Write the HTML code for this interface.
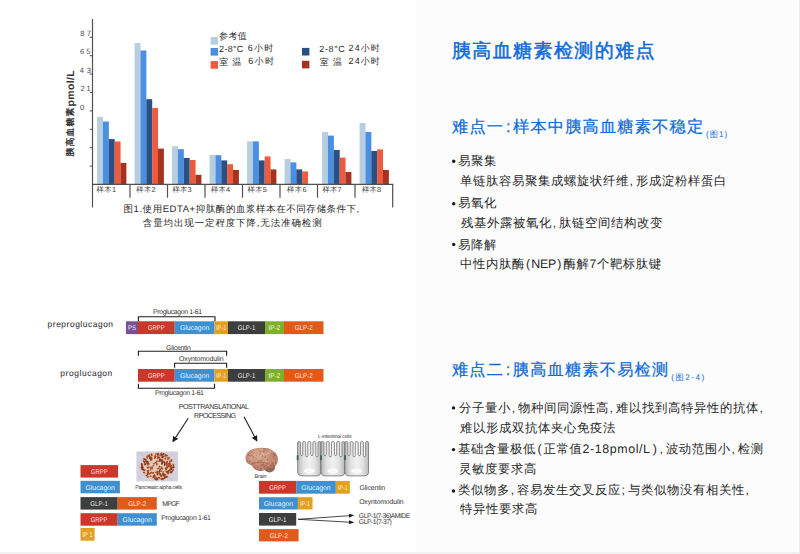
<!DOCTYPE html>
<html><head><meta charset="utf-8"><title>胰高血糖素检测的难点</title>
<style>
html,body{margin:0;padding:0;background:#fff;}
body{width:800px;height:554px;position:relative;overflow:hidden;font-family:"Liberation Sans", sans-serif;}
.rp{position:absolute;left:416px;top:0;width:383px;height:553px;background:#fcfcfd;}
.bb{position:absolute;left:0;top:552px;width:800px;height:2px;background:linear-gradient(#f6f6f6,#ebebeb);}
.br{position:absolute;left:799px;top:0;width:1px;height:554px;background:#ebebeb;}
svg{position:absolute;left:0;top:0;}
</style></head><body>
<div class="rp"></div><div class="bb"></div><div class="br"></div>
<svg width="800" height="554" viewBox="0 0 800 554" font-family='"Liberation Sans", sans-serif' text-rendering="geometricPrecision">
<rect x="97.10" y="116.9" width="5.90" height="67.50" fill="#b7cde0"/>
<rect x="102.95" y="121.5" width="5.90" height="62.90" fill="#4a8fe0"/>
<rect x="108.80" y="139.1" width="5.90" height="45.30" fill="#2a4f82"/>
<rect x="114.65" y="141.5" width="5.90" height="42.90" fill="#ec5b3d"/>
<rect x="120.50" y="162.9" width="5.90" height="21.50" fill="#a6321f"/>
<rect x="134.60" y="43" width="5.90" height="141.40" fill="#b7cde0"/>
<rect x="140.45" y="50.5" width="5.90" height="133.90" fill="#4a8fe0"/>
<rect x="146.30" y="99.2" width="5.90" height="85.20" fill="#2a4f82"/>
<rect x="152.15" y="108" width="5.90" height="76.40" fill="#ec5b3d"/>
<rect x="158.00" y="148.6" width="5.90" height="35.80" fill="#a6321f"/>
<rect x="172.10" y="146.2" width="5.90" height="38.20" fill="#b7cde0"/>
<rect x="177.95" y="149.2" width="5.90" height="35.20" fill="#4a8fe0"/>
<rect x="183.80" y="158" width="5.90" height="26.40" fill="#2a4f82"/>
<rect x="189.65" y="160" width="5.90" height="24.40" fill="#ec5b3d"/>
<rect x="195.50" y="174.8" width="5.90" height="9.60" fill="#a6321f"/>
<rect x="209.60" y="154.8" width="5.90" height="29.60" fill="#b7cde0"/>
<rect x="215.45" y="155.2" width="5.90" height="29.20" fill="#4a8fe0"/>
<rect x="221.30" y="160.4" width="5.90" height="24.00" fill="#2a4f82"/>
<rect x="227.15" y="164.2" width="5.90" height="20.20" fill="#ec5b3d"/>
<rect x="233.00" y="170" width="5.90" height="14.40" fill="#a6321f"/>
<rect x="247.10" y="141.4" width="5.90" height="43.00" fill="#b7cde0"/>
<rect x="252.95" y="141.4" width="5.90" height="43.00" fill="#4a8fe0"/>
<rect x="258.80" y="160.4" width="5.90" height="24.00" fill="#2a4f82"/>
<rect x="264.65" y="156.4" width="5.90" height="28.00" fill="#ec5b3d"/>
<rect x="270.50" y="169.4" width="5.90" height="15.00" fill="#a6321f"/>
<rect x="284.60" y="159" width="5.90" height="25.40" fill="#b7cde0"/>
<rect x="290.45" y="162.4" width="5.90" height="22.00" fill="#4a8fe0"/>
<rect x="296.30" y="169.4" width="5.90" height="15.00" fill="#2a4f82"/>
<rect x="302.15" y="171.4" width="5.90" height="13.00" fill="#ec5b3d"/>
<rect x="322.10" y="132" width="5.90" height="52.40" fill="#b7cde0"/>
<rect x="327.95" y="135.6" width="5.90" height="48.80" fill="#4a8fe0"/>
<rect x="333.80" y="150" width="5.90" height="34.40" fill="#2a4f82"/>
<rect x="339.65" y="157.6" width="5.90" height="26.80" fill="#ec5b3d"/>
<rect x="345.50" y="172" width="5.90" height="12.40" fill="#a6321f"/>
<rect x="359.60" y="123" width="5.90" height="61.40" fill="#b7cde0"/>
<rect x="365.45" y="132" width="5.90" height="52.40" fill="#4a8fe0"/>
<rect x="371.30" y="151" width="5.90" height="33.40" fill="#2a4f82"/>
<rect x="377.15" y="149.4" width="5.90" height="35.00" fill="#ec5b3d"/>
<rect x="383.00" y="170" width="5.90" height="14.40" fill="#a6321f"/>
<path d="M92.5 19V207.5" stroke="#505050" stroke-width="1.2"/>
<path d="M92.5 184.4H393.3" stroke="#505050" stroke-width="1.2"/>
<path d="M89.7 37.3H92.5" stroke="#505050" stroke-width="1"/>
<path d="M89.7 55.7H92.5" stroke="#505050" stroke-width="1"/>
<path d="M89.7 74.1H92.5" stroke="#505050" stroke-width="1"/>
<path d="M89.7 92.5H92.5" stroke="#505050" stroke-width="1"/>
<path d="M89.7 110.9H92.5" stroke="#505050" stroke-width="1"/>
<path d="M89.7 129.3H92.5" stroke="#505050" stroke-width="1"/>
<path d="M89.7 147.7H92.5" stroke="#505050" stroke-width="1"/>
<path d="M89.7 166.1H92.5" stroke="#505050" stroke-width="1"/>
<path d="M130.0 184.4V197.7" stroke="#505050" stroke-width="1.2"/>
<path d="M167.5 184.4V197.7" stroke="#505050" stroke-width="1.2"/>
<path d="M205.0 184.4V197.7" stroke="#505050" stroke-width="1.2"/>
<path d="M242.5 184.4V197.7" stroke="#505050" stroke-width="1.2"/>
<path d="M280.0 184.4V197.7" stroke="#505050" stroke-width="1.2"/>
<path d="M317.5 184.4V197.7" stroke="#505050" stroke-width="1.2"/>
<path d="M355.0 184.4V197.7" stroke="#505050" stroke-width="1.2"/>
<path d="M392.7 184.4V207.5" stroke="#505050" stroke-width="1.2"/>
<text transform="translate(74.4,156.4) rotate(-90)" font-weight="bold" fill="#333"><tspan font-size="8.9" dy="-1.1" style="letter-spacing:1.1px" textLength="50" lengthAdjust="spacingAndGlyphs">胰高血糖素</tspan><tspan font-size="10.4" dy="1.1" style="letter-spacing:0.4px">pmol/L</tspan></text>
<rect x="210.6" y="37" width="7.4" height="7.6" fill="#b7cde0"/>
<rect x="210.6" y="48" width="7.4" height="7.6" fill="#4a8fe0"/>
<rect x="210.6" y="61.1" width="7.4" height="7.6" fill="#ec5b3d"/>
<rect x="302" y="47.9" width="7.4" height="7.6" fill="#2a4f82"/>
<rect x="302" y="60.8" width="7.4" height="7.6" fill="#a6321f"/>
<rect x="126" y="321.3" width="12.00" height="12.80" fill="#7b4f96"/>
<text x="132.00" y="330.40" font-size="6.9" fill="#fff" fill-opacity="0.93" text-anchor="middle" textLength="8.10" lengthAdjust="spacingAndGlyphs">PS</text>
<rect x="138" y="321.3" width="36.70" height="12.80" fill="#c9382b"/>
<text x="156.35" y="330.40" font-size="6.9" fill="#fff" fill-opacity="0.93" text-anchor="middle" textLength="16.50" lengthAdjust="spacingAndGlyphs">GRPP</text>
<rect x="174.7" y="321.3" width="39.80" height="12.80" fill="#4090d0"/>
<text x="194.60" y="330.40" font-size="6.9" fill="#fff" fill-opacity="0.93" text-anchor="middle" textLength="29.40" lengthAdjust="spacingAndGlyphs">Glucagon</text>
<rect x="214.5" y="321.3" width="13.50" height="12.80" fill="#e3a020"/>
<text x="221.25" y="330.40" font-size="6.9" fill="#fff" fill-opacity="0.93" text-anchor="middle" textLength="9.80" lengthAdjust="spacingAndGlyphs">IP-1</text>
<rect x="228" y="321.3" width="37.00" height="12.80" fill="#3d3f3e"/>
<text x="246.50" y="330.40" font-size="6.9" fill="#fff" fill-opacity="0.93" text-anchor="middle" textLength="17.60" lengthAdjust="spacingAndGlyphs">GLP-1</text>
<rect x="265" y="321.3" width="19.00" height="12.80" fill="#7fb02d"/>
<text x="274.50" y="330.40" font-size="6.9" fill="#fff" fill-opacity="0.93" text-anchor="middle" textLength="11.85" lengthAdjust="spacingAndGlyphs">IP-2</text>
<rect x="284" y="321.3" width="39.50" height="12.80" fill="#e05a1b"/>
<text x="303.75" y="330.40" font-size="6.9" fill="#fff" fill-opacity="0.93" text-anchor="middle" textLength="18.20" lengthAdjust="spacingAndGlyphs">GLP-2</text>
<rect x="138" y="369" width="36.70" height="12.70" fill="#c9382b"/>
<text x="156.35" y="378.05" font-size="6.9" fill="#fff" fill-opacity="0.93" text-anchor="middle" textLength="16.50" lengthAdjust="spacingAndGlyphs">GRPP</text>
<rect x="174.7" y="369" width="39.80" height="12.70" fill="#4090d0"/>
<text x="194.60" y="378.05" font-size="6.9" fill="#fff" fill-opacity="0.93" text-anchor="middle" textLength="29.40" lengthAdjust="spacingAndGlyphs">Glucagon</text>
<rect x="214.5" y="369" width="13.50" height="12.70" fill="#e3a020"/>
<text x="221.25" y="378.05" font-size="6.9" fill="#fff" fill-opacity="0.93" text-anchor="middle" textLength="9.80" lengthAdjust="spacingAndGlyphs">IP-1</text>
<rect x="228" y="369" width="37.00" height="12.70" fill="#3d3f3e"/>
<text x="246.50" y="378.05" font-size="6.9" fill="#fff" fill-opacity="0.93" text-anchor="middle" textLength="17.60" lengthAdjust="spacingAndGlyphs">GLP-1</text>
<rect x="265" y="369" width="19.00" height="12.70" fill="#7fb02d"/>
<text x="274.50" y="378.05" font-size="6.9" fill="#fff" fill-opacity="0.93" text-anchor="middle" textLength="11.85" lengthAdjust="spacingAndGlyphs">IP-2</text>
<rect x="284" y="369" width="39.50" height="12.70" fill="#e05a1b"/>
<text x="303.75" y="378.05" font-size="6.9" fill="#fff" fill-opacity="0.93" text-anchor="middle" textLength="18.20" lengthAdjust="spacingAndGlyphs">GLP-2</text>
<path d="M138.4 321.3V316.8H215V321.3" fill="none" stroke="#1c1c1c" stroke-width="1.1"/>
<path d="M138.4 355.8V351.3H226.6V355.8" fill="none" stroke="#1c1c1c" stroke-width="1.1"/>
<path d="M174.6 367.8V363.3H226.6V367.8" fill="none" stroke="#1c1c1c" stroke-width="1.1"/>
<path d="M138.4 383.8V388.3H214.5V383.8" fill="none" stroke="#1c1c1c" stroke-width="1.1"/>
<defs><marker id="ah" markerWidth="6" markerHeight="6" refX="5" refY="3" orient="auto" markerUnits="userSpaceOnUse"><path d="M0 0L6 3L0 6z" fill="#1a1a1a"/></marker><marker id="ah2" markerWidth="5" markerHeight="4" refX="4.5" refY="2" orient="auto" markerUnits="userSpaceOnUse"><path d="M0 0L5 2L0 4z" fill="#1a1a1a"/></marker></defs>
<path d="M188.2 418.3L173 441.5" stroke="#1a1a1a" stroke-width="1.1" marker-end="url(#ah)"/>
<path d="M244 416.8L256.8 440.8" stroke="#1a1a1a" stroke-width="1.1" marker-end="url(#ah)"/>
<rect x="80.5" y="465.1" width="37.60" height="12.50" fill="#c9382b"/>
<text x="99.30" y="474.05" font-size="6.9" fill="#fff" fill-opacity="0.93" text-anchor="middle" textLength="16.50" lengthAdjust="spacingAndGlyphs">GRPP</text>
<rect x="80.5" y="480.8" width="39.40" height="12.50" fill="#4090d0"/>
<text x="100.20" y="489.75" font-size="6.9" fill="#fff" fill-opacity="0.93" text-anchor="middle" textLength="29.40" lengthAdjust="spacingAndGlyphs">Glucagon</text>
<rect x="80.5" y="497.1" width="37.20" height="12.50" fill="#3d3f3e"/>
<text x="99.10" y="506.05" font-size="6.9" fill="#fff" fill-opacity="0.93" text-anchor="middle" textLength="17.60" lengthAdjust="spacingAndGlyphs">GLP-1</text>
<rect x="117.7" y="497.1" width="39.10" height="12.50" fill="#e05a1b"/>
<text x="137.25" y="506.05" font-size="6.9" fill="#fff" fill-opacity="0.93" text-anchor="middle" textLength="18.20" lengthAdjust="spacingAndGlyphs">GLP-2</text>
<rect x="80.5" y="513.2" width="37.20" height="12.50" fill="#c9382b"/>
<text x="99.10" y="522.15" font-size="6.9" fill="#fff" fill-opacity="0.93" text-anchor="middle" textLength="16.50" lengthAdjust="spacingAndGlyphs">GRPP</text>
<rect x="117.7" y="513.2" width="39.10" height="12.50" fill="#4090d0"/>
<text x="137.25" y="522.15" font-size="6.9" fill="#fff" fill-opacity="0.93" text-anchor="middle" textLength="29.40" lengthAdjust="spacingAndGlyphs">Glucagon</text>
<rect x="80.5" y="528" width="14.10" height="12.70" fill="#e3a020"/>
<text x="87.55" y="537.05" font-size="6.9" fill="#fff" fill-opacity="0.93" text-anchor="middle" textLength="10.20" lengthAdjust="spacingAndGlyphs">IP 1</text>
<rect x="136.4" y="451.4" width="41.6" height="30" fill="#d3d1e0"/>
<circle cx="150.1" cy="456.4" r="0.83" fill="#aab0d2" opacity="0.7"/>
<circle cx="139.9" cy="467.5" r="0.68" fill="#aab0d2" opacity="0.7"/>
<circle cx="139.3" cy="466.7" r="0.52" fill="#aab0d2" opacity="0.7"/>
<circle cx="154.6" cy="454.0" r="0.55" fill="#aab0d2" opacity="0.7"/>
<circle cx="154.2" cy="476.0" r="0.56" fill="#aab0d2" opacity="0.7"/>
<circle cx="146.0" cy="470.2" r="0.97" fill="#aab0d2" opacity="0.7"/>
<circle cx="160.4" cy="463.5" r="0.99" fill="#aab0d2" opacity="0.7"/>
<circle cx="138.9" cy="476.9" r="0.64" fill="#aab0d2" opacity="0.7"/>
<circle cx="142.8" cy="455.4" r="0.65" fill="#aab0d2" opacity="0.7"/>
<circle cx="170.1" cy="457.2" r="0.79" fill="#aab0d2" opacity="0.7"/>
<circle cx="162.9" cy="462.8" r="0.77" fill="#aab0d2" opacity="0.7"/>
<circle cx="139.5" cy="453.7" r="0.60" fill="#aab0d2" opacity="0.7"/>
<circle cx="164.6" cy="464.4" r="0.66" fill="#aab0d2" opacity="0.7"/>
<circle cx="160.7" cy="465.1" r="0.65" fill="#aab0d2" opacity="0.7"/>
<circle cx="169.2" cy="472.3" r="0.62" fill="#aab0d2" opacity="0.7"/>
<circle cx="160.3" cy="467.2" r="0.94" fill="#aab0d2" opacity="0.7"/>
<circle cx="166.5" cy="460.4" r="0.99" fill="#aab0d2" opacity="0.7"/>
<circle cx="141.8" cy="464.1" r="0.88" fill="#aab0d2" opacity="0.7"/>
<circle cx="143.2" cy="466.2" r="0.52" fill="#aab0d2" opacity="0.7"/>
<circle cx="164.1" cy="474.2" r="0.79" fill="#aab0d2" opacity="0.7"/>
<circle cx="172.5" cy="461.1" r="0.85" fill="#aab0d2" opacity="0.7"/>
<circle cx="161.1" cy="468.8" r="0.73" fill="#aab0d2" opacity="0.7"/>
<circle cx="171.0" cy="479.4" r="0.74" fill="#aab0d2" opacity="0.7"/>
<circle cx="163.9" cy="453.8" r="0.85" fill="#aab0d2" opacity="0.7"/>
<circle cx="163.2" cy="480.8" r="0.91" fill="#aab0d2" opacity="0.7"/>
<circle cx="148.5" cy="463.2" r="0.83" fill="#aab0d2" opacity="0.7"/>
<circle cx="137.9" cy="465.4" r="0.58" fill="#aab0d2" opacity="0.7"/>
<circle cx="141.7" cy="453.7" r="0.88" fill="#aab0d2" opacity="0.7"/>
<circle cx="142.2" cy="459.2" r="0.70" fill="#aab0d2" opacity="0.7"/>
<circle cx="172.3" cy="454.3" r="0.72" fill="#aab0d2" opacity="0.7"/>
<circle cx="159.3" cy="477.6" r="0.91" fill="#aab0d2" opacity="0.7"/>
<circle cx="172.0" cy="460.1" r="0.71" fill="#aab0d2" opacity="0.7"/>
<circle cx="151.5" cy="477.6" r="0.98" fill="#aab0d2" opacity="0.7"/>
<circle cx="143.1" cy="457.1" r="0.62" fill="#aab0d2" opacity="0.7"/>
<circle cx="146.5" cy="466.1" r="0.79" fill="#aab0d2" opacity="0.7"/>
<circle cx="147.6" cy="452.1" r="0.71" fill="#aab0d2" opacity="0.7"/>
<circle cx="152.0" cy="468.4" r="0.98" fill="#aab0d2" opacity="0.7"/>
<circle cx="165.0" cy="466.9" r="0.81" fill="#aab0d2" opacity="0.7"/>
<circle cx="164.4" cy="453.6" r="0.95" fill="#aab0d2" opacity="0.7"/>
<circle cx="168.6" cy="477.4" r="0.90" fill="#aab0d2" opacity="0.7"/>
<defs><radialGradient id="pg"><stop offset="0" stop-color="#e6cbbd"/><stop offset="0.8" stop-color="#e2c3b4"/><stop offset="1" stop-color="#e2c3b4" stop-opacity="0"/></radialGradient></defs>
<ellipse cx="157.4" cy="466.3" rx="18.5" ry="15.2" fill="url(#pg)"/>
<ellipse cx="148.2" cy="472.4" rx="0.86" ry="0.85" transform="rotate(11 148.2 472.4)" fill="#7e3214"/>
<ellipse cx="169.5" cy="465.3" rx="0.87" ry="0.84" transform="rotate(18 169.5 465.3)" fill="#b25c34"/>
<ellipse cx="161.6" cy="471.2" rx="1.02" ry="0.61" transform="rotate(157 161.6 471.2)" fill="#b25c34"/>
<ellipse cx="147.6" cy="474.3" rx="1.37" ry="0.84" transform="rotate(85 147.6 474.3)" fill="#7e3214"/>
<ellipse cx="166.8" cy="455.4" rx="1.08" ry="0.79" transform="rotate(15 166.8 455.4)" fill="#7e3214"/>
<ellipse cx="157.4" cy="454.2" rx="1.09" ry="0.88" transform="rotate(93 157.4 454.2)" fill="#8c3a1a"/>
<ellipse cx="169.7" cy="463.1" rx="0.89" ry="0.82" transform="rotate(5 169.7 463.1)" fill="#b25c34"/>
<ellipse cx="153.3" cy="477.3" rx="0.85" ry="0.94" transform="rotate(93 153.3 477.3)" fill="#8c3a1a"/>
<ellipse cx="151.5" cy="472.5" rx="1.12" ry="0.80" transform="rotate(115 151.5 472.5)" fill="#b25c34"/>
<ellipse cx="163.5" cy="454.0" rx="1.31" ry="0.92" transform="rotate(147 163.5 454.0)" fill="#8c3a1a"/>
<ellipse cx="161.3" cy="476.2" rx="1.24" ry="1.00" transform="rotate(142 161.3 476.2)" fill="#a34c26"/>
<ellipse cx="156.6" cy="478.1" rx="1.37" ry="0.78" transform="rotate(169 156.6 478.1)" fill="#9a4420"/>
<ellipse cx="168.3" cy="463.7" rx="0.93" ry="0.69" transform="rotate(35 168.3 463.7)" fill="#8c3a1a"/>
<ellipse cx="141.4" cy="467.8" rx="1.17" ry="0.60" transform="rotate(164 141.4 467.8)" fill="#9a4420"/>
<ellipse cx="159.5" cy="460.9" rx="1.20" ry="0.96" transform="rotate(141 159.5 460.9)" fill="#8c3a1a"/>
<ellipse cx="148.6" cy="467.3" rx="1.27" ry="0.73" transform="rotate(144 148.6 467.3)" fill="#a34c26"/>
<ellipse cx="143.2" cy="469.1" rx="0.85" ry="0.66" transform="rotate(179 143.2 469.1)" fill="#7e3214"/>
<ellipse cx="166.5" cy="476.8" rx="1.28" ry="0.66" transform="rotate(149 166.5 476.8)" fill="#a34c26"/>
<ellipse cx="151.2" cy="458.5" rx="1.13" ry="0.65" transform="rotate(3 151.2 458.5)" fill="#7e3214"/>
<ellipse cx="141.8" cy="464.1" rx="1.06" ry="0.95" transform="rotate(149 141.8 464.1)" fill="#8c3a1a"/>
<ellipse cx="166.7" cy="467.7" rx="1.10" ry="0.91" transform="rotate(59 166.7 467.7)" fill="#b25c34"/>
<ellipse cx="150.5" cy="469.5" rx="1.35" ry="0.74" transform="rotate(82 150.5 469.5)" fill="#b25c34"/>
<ellipse cx="162.5" cy="456.5" rx="1.30" ry="0.95" transform="rotate(24 162.5 456.5)" fill="#8c3a1a"/>
<ellipse cx="153.4" cy="465.8" rx="1.06" ry="0.67" transform="rotate(1 153.4 465.8)" fill="#8c3a1a"/>
<ellipse cx="163.2" cy="475.4" rx="1.24" ry="0.82" transform="rotate(59 163.2 475.4)" fill="#b25c34"/>
<ellipse cx="145.1" cy="464.3" rx="1.27" ry="0.95" transform="rotate(10 145.1 464.3)" fill="#8c3a1a"/>
<ellipse cx="154.9" cy="478.4" rx="1.10" ry="0.82" transform="rotate(137 154.9 478.4)" fill="#7e3214"/>
<ellipse cx="144.6" cy="470.2" rx="1.10" ry="0.80" transform="rotate(125 144.6 470.2)" fill="#a34c26"/>
<ellipse cx="142.4" cy="465.7" rx="1.10" ry="0.70" transform="rotate(94 142.4 465.7)" fill="#9a4420"/>
<ellipse cx="171.2" cy="460.3" rx="0.92" ry="0.78" transform="rotate(75 171.2 460.3)" fill="#a34c26"/>
<ellipse cx="151.4" cy="468.2" rx="0.94" ry="0.63" transform="rotate(121 151.4 468.2)" fill="#7e3214"/>
<ellipse cx="164.1" cy="462.1" rx="1.23" ry="0.86" transform="rotate(26 164.1 462.1)" fill="#8c3a1a"/>
<ellipse cx="166.7" cy="464.7" rx="1.37" ry="0.76" transform="rotate(88 166.7 464.7)" fill="#8c3a1a"/>
<ellipse cx="163.8" cy="474.8" rx="1.11" ry="0.74" transform="rotate(35 163.8 474.8)" fill="#9a4420"/>
<ellipse cx="166.9" cy="471.5" rx="1.00" ry="0.78" transform="rotate(127 166.9 471.5)" fill="#a34c26"/>
<ellipse cx="150.7" cy="476.2" rx="1.11" ry="0.63" transform="rotate(177 150.7 476.2)" fill="#8c3a1a"/>
<ellipse cx="164.6" cy="465.2" rx="0.96" ry="0.62" transform="rotate(140 164.6 465.2)" fill="#9a4420"/>
<ellipse cx="157.9" cy="453.8" rx="1.31" ry="0.87" transform="rotate(170 157.9 453.8)" fill="#a34c26"/>
<ellipse cx="166.7" cy="476.8" rx="1.14" ry="0.88" transform="rotate(16 166.7 476.8)" fill="#7e3214"/>
<ellipse cx="160.1" cy="459.3" rx="1.34" ry="0.71" transform="rotate(3 160.1 459.3)" fill="#7e3214"/>
<ellipse cx="159.6" cy="461.0" rx="1.31" ry="0.63" transform="rotate(155 159.6 461.0)" fill="#a34c26"/>
<ellipse cx="173.5" cy="467.3" rx="1.05" ry="0.97" transform="rotate(112 173.5 467.3)" fill="#7e3214"/>
<ellipse cx="147.7" cy="464.9" rx="0.87" ry="0.66" transform="rotate(9 147.7 464.9)" fill="#8c3a1a"/>
<ellipse cx="169.9" cy="461.6" rx="1.12" ry="0.68" transform="rotate(80 169.9 461.6)" fill="#8c3a1a"/>
<ellipse cx="155.5" cy="478.6" rx="1.40" ry="0.61" transform="rotate(3 155.5 478.6)" fill="#b25c34"/>
<ellipse cx="148.8" cy="463.9" rx="1.08" ry="0.97" transform="rotate(19 148.8 463.9)" fill="#a34c26"/>
<ellipse cx="150.1" cy="457.3" rx="1.33" ry="0.99" transform="rotate(55 150.1 457.3)" fill="#8c3a1a"/>
<ellipse cx="168.5" cy="465.3" rx="1.30" ry="0.88" transform="rotate(114 168.5 465.3)" fill="#a34c26"/>
<ellipse cx="173.5" cy="465.4" rx="1.30" ry="0.61" transform="rotate(113 173.5 465.4)" fill="#9a4420"/>
<ellipse cx="152.1" cy="468.4" rx="1.20" ry="0.75" transform="rotate(91 152.1 468.4)" fill="#9a4420"/>
<ellipse cx="145.8" cy="459.4" rx="0.83" ry="0.67" transform="rotate(48 145.8 459.4)" fill="#7e3214"/>
<ellipse cx="156.1" cy="479.5" rx="1.38" ry="0.82" transform="rotate(44 156.1 479.5)" fill="#9a4420"/>
<ellipse cx="159.2" cy="473.5" rx="1.00" ry="0.63" transform="rotate(50 159.2 473.5)" fill="#8c3a1a"/>
<ellipse cx="157.6" cy="478.6" rx="0.85" ry="0.93" transform="rotate(26 157.6 478.6)" fill="#b25c34"/>
<ellipse cx="161.5" cy="467.2" rx="0.98" ry="0.69" transform="rotate(105 161.5 467.2)" fill="#b25c34"/>
<ellipse cx="162.5" cy="460.7" rx="1.34" ry="0.91" transform="rotate(107 162.5 460.7)" fill="#9a4420"/>
<ellipse cx="155.1" cy="456.0" rx="0.97" ry="0.85" transform="rotate(26 155.1 456.0)" fill="#b25c34"/>
<ellipse cx="147.3" cy="457.7" rx="1.29" ry="0.66" transform="rotate(94 147.3 457.7)" fill="#b25c34"/>
<ellipse cx="143.7" cy="461.1" rx="0.81" ry="0.87" transform="rotate(144 143.7 461.1)" fill="#8c3a1a"/>
<ellipse cx="162.0" cy="468.5" rx="1.18" ry="0.98" transform="rotate(68 162.0 468.5)" fill="#a34c26"/>
<ellipse cx="144.6" cy="462.2" rx="1.18" ry="0.87" transform="rotate(88 144.6 462.2)" fill="#7e3214"/>
<ellipse cx="151.2" cy="467.7" rx="1.36" ry="0.96" transform="rotate(17 151.2 467.7)" fill="#b25c34"/>
<ellipse cx="170.7" cy="471.2" rx="0.95" ry="0.63" transform="rotate(48 170.7 471.2)" fill="#8c3a1a"/>
<ellipse cx="159.1" cy="477.7" rx="1.08" ry="0.94" transform="rotate(14 159.1 477.7)" fill="#9a4420"/>
<ellipse cx="158.9" cy="455.0" rx="1.19" ry="0.63" transform="rotate(27 158.9 455.0)" fill="#9a4420"/>
<ellipse cx="149.1" cy="456.7" rx="1.17" ry="0.65" transform="rotate(87 149.1 456.7)" fill="#a34c26"/>
<ellipse cx="155.7" cy="477.9" rx="1.22" ry="0.87" transform="rotate(52 155.7 477.9)" fill="#b25c34"/>
<ellipse cx="154.7" cy="476.3" rx="1.26" ry="1.00" transform="rotate(99 154.7 476.3)" fill="#9a4420"/>
<ellipse cx="173.1" cy="464.5" rx="0.81" ry="0.78" transform="rotate(148 173.1 464.5)" fill="#a34c26"/>
<ellipse cx="169.0" cy="465.9" rx="1.35" ry="0.97" transform="rotate(13 169.0 465.9)" fill="#7e3214"/>
<ellipse cx="165.5" cy="474.6" rx="1.37" ry="0.65" transform="rotate(148 165.5 474.6)" fill="#b25c34"/>
<ellipse cx="156.0" cy="472.4" rx="1.02" ry="0.80" transform="rotate(158 156.0 472.4)" fill="#a34c26"/>
<ellipse cx="159.6" cy="466.6" rx="1.10" ry="0.78" transform="rotate(54 159.6 466.6)" fill="#8c3a1a"/>
<ellipse cx="147.5" cy="471.1" rx="0.87" ry="0.73" transform="rotate(58 147.5 471.1)" fill="#9a4420"/>
<ellipse cx="161.5" cy="460.9" rx="1.36" ry="0.89" transform="rotate(162 161.5 460.9)" fill="#9a4420"/>
<ellipse cx="157.3" cy="471.4" rx="1.03" ry="0.95" transform="rotate(14 157.3 471.4)" fill="#a34c26"/>
<ellipse cx="157.9" cy="453.6" rx="0.97" ry="0.62" transform="rotate(119 157.9 453.6)" fill="#8c3a1a"/>
<ellipse cx="157.4" cy="474.7" rx="1.11" ry="0.68" transform="rotate(67 157.4 474.7)" fill="#a34c26"/>
<ellipse cx="168.7" cy="458.0" rx="1.18" ry="0.97" transform="rotate(169 168.7 458.0)" fill="#b25c34"/>
<ellipse cx="159.3" cy="471.6" rx="1.36" ry="0.76" transform="rotate(111 159.3 471.6)" fill="#8c3a1a"/>
<ellipse cx="151.0" cy="459.5" rx="0.83" ry="0.97" transform="rotate(23 151.0 459.5)" fill="#a34c26"/>
<ellipse cx="148.5" cy="470.7" rx="0.95" ry="0.90" transform="rotate(118 148.5 470.7)" fill="#a34c26"/>
<ellipse cx="151.5" cy="459.0" rx="1.13" ry="0.76" transform="rotate(30 151.5 459.0)" fill="#8c3a1a"/>
<ellipse cx="168.7" cy="471.1" rx="1.29" ry="0.82" transform="rotate(82 168.7 471.1)" fill="#9a4420"/>
<ellipse cx="169.6" cy="466.1" rx="0.88" ry="0.68" transform="rotate(16 169.6 466.1)" fill="#9a4420"/>
<ellipse cx="147.2" cy="463.2" rx="1.02" ry="0.92" transform="rotate(36 147.2 463.2)" fill="#7e3214"/>
<ellipse cx="157.4" cy="456.5" rx="1.05" ry="0.81" transform="rotate(68 157.4 456.5)" fill="#9a4420"/>
<ellipse cx="157.6" cy="455.8" rx="1.14" ry="0.74" transform="rotate(124 157.6 455.8)" fill="#b25c34"/>
<ellipse cx="146.8" cy="457.0" rx="0.93" ry="0.71" transform="rotate(45 146.8 457.0)" fill="#a34c26"/>
<ellipse cx="150.0" cy="458.4" rx="0.99" ry="0.93" transform="rotate(174 150.0 458.4)" fill="#8c3a1a"/>
<ellipse cx="171.5" cy="468.7" rx="1.34" ry="0.79" transform="rotate(106 171.5 468.7)" fill="#7e3214"/>
<ellipse cx="171.6" cy="472.1" rx="1.36" ry="0.81" transform="rotate(84 171.6 472.1)" fill="#a34c26"/>
<ellipse cx="157.5" cy="472.5" rx="0.89" ry="0.81" transform="rotate(123 157.5 472.5)" fill="#a34c26"/>
<ellipse cx="170.2" cy="472.5" rx="0.80" ry="0.65" transform="rotate(102 170.2 472.5)" fill="#7e3214"/>
<ellipse cx="150.9" cy="459.3" rx="0.88" ry="0.70" transform="rotate(115 150.9 459.3)" fill="#7e3214"/>
<ellipse cx="166.0" cy="471.4" rx="1.37" ry="0.68" transform="rotate(47 166.0 471.4)" fill="#b25c34"/>
<ellipse cx="170.4" cy="466.4" rx="1.40" ry="0.71" transform="rotate(57 170.4 466.4)" fill="#8c3a1a"/>
<ellipse cx="147.8" cy="467.5" rx="0.95" ry="0.98" transform="rotate(127 147.8 467.5)" fill="#9a4420"/>
<ellipse cx="166.0" cy="468.9" rx="1.33" ry="0.86" transform="rotate(15 166.0 468.9)" fill="#8c3a1a"/>
<ellipse cx="149.6" cy="455.0" rx="0.94" ry="0.61" transform="rotate(61 149.6 455.0)" fill="#a34c26"/>
<ellipse cx="149.8" cy="473.7" rx="0.80" ry="0.72" transform="rotate(152 149.8 473.7)" fill="#7e3214"/>
<ellipse cx="161.9" cy="479.0" rx="0.99" ry="0.93" transform="rotate(42 161.9 479.0)" fill="#8c3a1a"/>
<ellipse cx="155.9" cy="479.1" rx="0.87" ry="0.85" transform="rotate(110 155.9 479.1)" fill="#8c3a1a"/>
<ellipse cx="141.8" cy="467.5" rx="0.83" ry="0.84" transform="rotate(166 141.8 467.5)" fill="#7e3214"/>
<ellipse cx="161.1" cy="479.2" rx="0.89" ry="0.62" transform="rotate(11 161.1 479.2)" fill="#a34c26"/>
<ellipse cx="143.7" cy="470.0" rx="0.99" ry="0.65" transform="rotate(14 143.7 470.0)" fill="#8c3a1a"/>
<ellipse cx="153.1" cy="472.8" rx="1.36" ry="0.90" transform="rotate(6 153.1 472.8)" fill="#a34c26"/>
<ellipse cx="166.0" cy="455.0" rx="1.07" ry="0.64" transform="rotate(14 166.0 455.0)" fill="#7e3214"/>
<ellipse cx="147.9" cy="476.9" rx="0.87" ry="0.99" transform="rotate(37 147.9 476.9)" fill="#9a4420"/>
<ellipse cx="158.7" cy="457.5" rx="1.28" ry="0.64" transform="rotate(127 158.7 457.5)" fill="#8c3a1a"/>
<ellipse cx="146.4" cy="475.6" rx="0.92" ry="0.75" transform="rotate(161 146.4 475.6)" fill="#7e3214"/>
<ellipse cx="150.7" cy="460.2" rx="1.18" ry="0.76" transform="rotate(68 150.7 460.2)" fill="#a34c26"/>
<ellipse cx="171.9" cy="471.3" rx="0.95" ry="0.90" transform="rotate(162 171.9 471.3)" fill="#9a4420"/>
<ellipse cx="150.2" cy="473.2" rx="1.37" ry="0.62" transform="rotate(134 150.2 473.2)" fill="#9a4420"/>
<ellipse cx="166.8" cy="462.3" rx="1.23" ry="0.84" transform="rotate(145 166.8 462.3)" fill="#7e3214"/>
<ellipse cx="167.0" cy="467.5" rx="1.09" ry="0.98" transform="rotate(172 167.0 467.5)" fill="#a34c26"/>
<ellipse cx="161.3" cy="453.7" rx="1.29" ry="0.65" transform="rotate(89 161.3 453.7)" fill="#7e3214"/>
<ellipse cx="162.1" cy="454.9" rx="1.29" ry="0.91" transform="rotate(109 162.1 454.9)" fill="#9a4420"/>
<ellipse cx="165.3" cy="458.5" rx="1.27" ry="0.84" transform="rotate(92 165.3 458.5)" fill="#a34c26"/>
<ellipse cx="157.6" cy="458.1" rx="0.84" ry="0.61" transform="rotate(99 157.6 458.1)" fill="#9a4420"/>
<ellipse cx="163.8" cy="474.7" rx="0.86" ry="0.63" transform="rotate(112 163.8 474.7)" fill="#8c3a1a"/>
<ellipse cx="167.8" cy="472.3" rx="1.23" ry="0.78" transform="rotate(42 167.8 472.3)" fill="#a34c26"/>
<ellipse cx="142.3" cy="469.4" rx="0.94" ry="0.82" transform="rotate(139 142.3 469.4)" fill="#7e3214"/>
<ellipse cx="159.4" cy="457.7" rx="0.97" ry="0.71" transform="rotate(46 159.4 457.7)" fill="#9a4420"/>
<ellipse cx="160.5" cy="474.1" rx="0.95" ry="0.66" transform="rotate(159 160.5 474.1)" fill="#b25c34"/>
<ellipse cx="159.8" cy="471.1" rx="0.95" ry="0.70" transform="rotate(95 159.8 471.1)" fill="#7e3214"/>
<ellipse cx="148.2" cy="455.3" rx="0.86" ry="0.79" transform="rotate(147 148.2 455.3)" fill="#a34c26"/>
<ellipse cx="161.9" cy="464.1" rx="0.98" ry="0.65" transform="rotate(34 161.9 464.1)" fill="#b25c34"/>
<ellipse cx="159.7" cy="471.4" rx="1.11" ry="0.67" transform="rotate(109 159.7 471.4)" fill="#7e3214"/>
<ellipse cx="168.0" cy="473.2" rx="1.17" ry="0.69" transform="rotate(66 168.0 473.2)" fill="#8c3a1a"/>
<ellipse cx="173.0" cy="470.0" rx="0.82" ry="0.89" transform="rotate(165 173.0 470.0)" fill="#7e3214"/>
<ellipse cx="162.4" cy="457.4" rx="1.02" ry="0.85" transform="rotate(14 162.4 457.4)" fill="#7e3214"/>
<ellipse cx="161.1" cy="455.9" rx="0.84" ry="0.64" transform="rotate(71 161.1 455.9)" fill="#b25c34"/>
<ellipse cx="164.7" cy="475.2" rx="1.19" ry="0.76" transform="rotate(49 164.7 475.2)" fill="#9a4420"/>
<ellipse cx="151.5" cy="457.7" rx="0.83" ry="0.90" transform="rotate(159 151.5 457.7)" fill="#a34c26"/>
<ellipse cx="144.1" cy="472.7" rx="1.40" ry="0.75" transform="rotate(35 144.1 472.7)" fill="#a34c26"/>
<ellipse cx="158.2" cy="468.4" rx="1.34" ry="0.77" transform="rotate(148 158.2 468.4)" fill="#a34c26"/>
<ellipse cx="147.4" cy="461.9" rx="1.26" ry="0.65" transform="rotate(9 147.4 461.9)" fill="#8c3a1a"/>
<ellipse cx="147.5" cy="456.3" rx="0.85" ry="0.85" transform="rotate(67 147.5 456.3)" fill="#b25c34"/>
<ellipse cx="162.7" cy="474.5" rx="0.90" ry="0.67" transform="rotate(12 162.7 474.5)" fill="#a34c26"/>
<ellipse cx="142.4" cy="467.0" rx="1.38" ry="0.68" transform="rotate(23 142.4 467.0)" fill="#7e3214"/>
<ellipse cx="169.8" cy="464.7" rx="0.83" ry="0.97" transform="rotate(70 169.8 464.7)" fill="#b25c34"/>
<ellipse cx="151.5" cy="454.4" rx="1.18" ry="0.94" transform="rotate(112 151.5 454.4)" fill="#b25c34"/>
<ellipse cx="166.0" cy="456.0" rx="0.91" ry="0.69" transform="rotate(72 166.0 456.0)" fill="#b25c34"/>
<ellipse cx="163.7" cy="474.1" rx="0.89" ry="0.99" transform="rotate(147 163.7 474.1)" fill="#8c3a1a"/>
<ellipse cx="170.2" cy="469.1" rx="1.25" ry="0.62" transform="rotate(151 170.2 469.1)" fill="#7e3214"/>
<ellipse cx="147.9" cy="472.8" rx="1.31" ry="0.91" transform="rotate(117 147.9 472.8)" fill="#9a4420"/>
<ellipse cx="147.0" cy="461.4" rx="1.20" ry="0.78" transform="rotate(79 147.0 461.4)" fill="#7e3214"/>
<ellipse cx="173.5" cy="466.6" rx="1.08" ry="0.78" transform="rotate(111 173.5 466.6)" fill="#a34c26"/>
<ellipse cx="165.2" cy="455.6" rx="1.04" ry="0.63" transform="rotate(65 165.2 455.6)" fill="#9a4420"/>
<ellipse cx="167.6" cy="471.8" rx="1.11" ry="0.62" transform="rotate(115 167.6 471.8)" fill="#7e3214"/>
<ellipse cx="166.9" cy="462.1" rx="1.23" ry="0.63" transform="rotate(135 166.9 462.1)" fill="#a34c26"/>
<ellipse cx="148.9" cy="456.2" rx="0.82" ry="0.63" transform="rotate(111 148.9 456.2)" fill="#7e3214"/>
<ellipse cx="163.0" cy="478.8" rx="1.10" ry="0.98" transform="rotate(165 163.0 478.8)" fill="#8c3a1a"/>
<ellipse cx="151.8" cy="455.3" rx="0.93" ry="0.93" transform="rotate(110 151.8 455.3)" fill="#9a4420"/>
<ellipse cx="165.9" cy="477.1" rx="0.96" ry="0.93" transform="rotate(26 165.9 477.1)" fill="#b25c34"/>
<ellipse cx="169.6" cy="464.0" rx="1.16" ry="0.85" transform="rotate(43 169.6 464.0)" fill="#9a4420"/>
<ellipse cx="166.1" cy="468.0" rx="0.90" ry="0.97" transform="rotate(122 166.1 468.0)" fill="#a34c26"/>
<ellipse cx="164.7" cy="477.0" rx="0.87" ry="0.81" transform="rotate(115 164.7 477.0)" fill="#9a4420"/>
<ellipse cx="169.4" cy="464.2" rx="1.11" ry="0.88" transform="rotate(161 169.4 464.2)" fill="#9a4420"/>
<ellipse cx="171.2" cy="465.8" rx="1.04" ry="0.92" transform="rotate(48 171.2 465.8)" fill="#9a4420"/>
<ellipse cx="147.4" cy="461.9" rx="1.26" ry="0.78" transform="rotate(32 147.4 461.9)" fill="#7e3214"/>
<ellipse cx="153.7" cy="476.5" rx="0.99" ry="0.99" transform="rotate(157 153.7 476.5)" fill="#9a4420"/>
<ellipse cx="155.8" cy="454.3" rx="0.93" ry="0.72" transform="rotate(113 155.8 454.3)" fill="#a34c26"/>
<ellipse cx="141.9" cy="465.3" rx="0.88" ry="0.69" transform="rotate(118 141.9 465.3)" fill="#7e3214"/>
<ellipse cx="169.9" cy="470.0" rx="0.98" ry="0.81" transform="rotate(96 169.9 470.0)" fill="#a34c26"/>
<ellipse cx="145.8" cy="460.7" rx="0.92" ry="0.85" transform="rotate(85 145.8 460.7)" fill="#8c3a1a"/>
<ellipse cx="172.3" cy="467.4" rx="1.22" ry="0.78" transform="rotate(11 172.3 467.4)" fill="#8c3a1a"/>
<ellipse cx="167.7" cy="457.4" rx="1.04" ry="0.71" transform="rotate(2 167.7 457.4)" fill="#b25c34"/>
<ellipse cx="167.9" cy="459.3" rx="1.15" ry="0.84" transform="rotate(93 167.9 459.3)" fill="#a34c26"/>
<ellipse cx="157.5" cy="479.2" rx="0.83" ry="0.81" transform="rotate(73 157.5 479.2)" fill="#8c3a1a"/>
<ellipse cx="165.9" cy="477.2" rx="0.86" ry="0.85" transform="rotate(118 165.9 477.2)" fill="#8c3a1a"/>
<ellipse cx="163.2" cy="472.2" rx="1.16" ry="0.80" transform="rotate(115 163.2 472.2)" fill="#b25c34"/>
<ellipse cx="162.3" cy="474.2" rx="0.98" ry="0.62" transform="rotate(160 162.3 474.2)" fill="#a34c26"/>
<ellipse cx="156.8" cy="464.1" rx="1.31" ry="0.90" transform="rotate(84 156.8 464.1)" fill="#a34c26"/>
<ellipse cx="164.7" cy="478.2" rx="0.96" ry="0.86" transform="rotate(22 164.7 478.2)" fill="#9a4420"/>
<ellipse cx="155.0" cy="458.1" rx="1.13" ry="0.77" transform="rotate(142 155.0 458.1)" fill="#b25c34"/>
<ellipse cx="167.8" cy="464.8" rx="1.36" ry="0.96" transform="rotate(15 167.8 464.8)" fill="#b25c34"/>
<ellipse cx="167.5" cy="467.1" rx="0.94" ry="0.90" transform="rotate(170 167.5 467.1)" fill="#9a4420"/>
<ellipse cx="161.6" cy="475.3" rx="1.16" ry="0.75" transform="rotate(153 161.6 475.3)" fill="#b25c34"/>
<ellipse cx="142.4" cy="468.7" rx="1.22" ry="0.94" transform="rotate(79 142.4 468.7)" fill="#8c3a1a"/>
<ellipse cx="147.7" cy="462.5" rx="0.93" ry="0.85" transform="rotate(14 147.7 462.5)" fill="#8c3a1a"/>
<ellipse cx="160.2" cy="469.3" rx="0.86" ry="0.97" transform="rotate(62 160.2 469.3)" fill="#8c3a1a"/>
<ellipse cx="155.9" cy="462.5" rx="0.88" ry="0.86" transform="rotate(8 155.9 462.5)" fill="#7e3214"/>
<ellipse cx="156.9" cy="461.1" rx="1.15" ry="0.75" transform="rotate(147 156.9 461.1)" fill="#b25c34"/>
<ellipse cx="162.3" cy="463.0" rx="1.32" ry="0.97" transform="rotate(170 162.3 463.0)" fill="#7e3214"/>
<ellipse cx="157.6" cy="474.0" rx="0.82" ry="0.98" transform="rotate(164 157.6 474.0)" fill="#7e3214"/>
<ellipse cx="163.7" cy="456.1" rx="0.97" ry="0.64" transform="rotate(18 163.7 456.1)" fill="#8c3a1a"/>
<ellipse cx="154.3" cy="475.1" rx="0.96" ry="0.74" transform="rotate(167 154.3 475.1)" fill="#7e3214"/>
<ellipse cx="155.0" cy="457.1" rx="0.99" ry="0.99" transform="rotate(91 155.0 457.1)" fill="#9a4420"/>
<ellipse cx="153.9" cy="463.6" rx="1.05" ry="0.77" transform="rotate(139 153.9 463.6)" fill="#9a4420"/>
<ellipse cx="151.9" cy="467.2" rx="1.14" ry="0.89" transform="rotate(149 151.9 467.2)" fill="#b25c34"/>
<ellipse cx="161.1" cy="459.8" rx="0.80" ry="0.68" transform="rotate(137 161.1 459.8)" fill="#7e3214"/>
<ellipse cx="170.0" cy="466.6" rx="1.09" ry="0.92" transform="rotate(33 170.0 466.6)" fill="#a34c26"/>
<ellipse cx="144.1" cy="459.1" rx="1.11" ry="0.83" transform="rotate(29 144.1 459.1)" fill="#8c3a1a"/>
<ellipse cx="166.4" cy="463.3" rx="0.90" ry="0.98" transform="rotate(138 166.4 463.3)" fill="#a34c26"/>
<ellipse cx="160.8" cy="454.8" rx="1.27" ry="0.85" transform="rotate(64 160.8 454.8)" fill="#a34c26"/>
<ellipse cx="171.4" cy="460.7" rx="1.25" ry="0.77" transform="rotate(116 171.4 460.7)" fill="#9a4420"/>
<ellipse cx="160.2" cy="474.4" rx="1.34" ry="0.80" transform="rotate(68 160.2 474.4)" fill="#8c3a1a"/>
<ellipse cx="164.8" cy="464.1" rx="1.16" ry="0.88" transform="rotate(109 164.8 464.1)" fill="#7e3214"/>
<rect x="259" y="480.9" width="37.20" height="12.80" fill="#c9382b"/>
<text x="277.60" y="490.00" font-size="6.9" fill="#fff" fill-opacity="0.93" text-anchor="middle" textLength="16.50" lengthAdjust="spacingAndGlyphs">GRPP</text>
<rect x="296.2" y="480.9" width="39.60" height="12.80" fill="#4090d0"/>
<text x="316.00" y="490.00" font-size="6.9" fill="#fff" fill-opacity="0.93" text-anchor="middle" textLength="29.40" lengthAdjust="spacingAndGlyphs">Glucagon</text>
<rect x="335.8" y="480.9" width="14.00" height="12.80" fill="#e3a020"/>
<text x="342.80" y="490.00" font-size="6.9" fill="#fff" fill-opacity="0.93" text-anchor="middle" textLength="9.80" lengthAdjust="spacingAndGlyphs">IP-1</text>
<rect x="259" y="497.2" width="38.90" height="12.30" fill="#4090d0"/>
<text x="278.45" y="506.05" font-size="6.9" fill="#fff" fill-opacity="0.93" text-anchor="middle" textLength="29.40" lengthAdjust="spacingAndGlyphs">Glucagon</text>
<rect x="297.9" y="497.2" width="14.60" height="12.30" fill="#e3a020"/>
<text x="305.20" y="506.05" font-size="6.9" fill="#fff" fill-opacity="0.93" text-anchor="middle" textLength="9.80" lengthAdjust="spacingAndGlyphs">IP-1</text>
<rect x="259" y="513" width="37.20" height="12.60" fill="#3d3f3e"/>
<text x="277.60" y="522.00" font-size="6.9" fill="#fff" fill-opacity="0.93" text-anchor="middle" textLength="17.60" lengthAdjust="spacingAndGlyphs">GLP-1</text>
<rect x="259" y="529.1" width="39.60" height="12.30" fill="#e05a1b"/>
<text x="278.80" y="537.95" font-size="6.9" fill="#fff" fill-opacity="0.93" text-anchor="middle" textLength="18.20" lengthAdjust="spacingAndGlyphs">GLP-2</text>
<path d="M298 519.3L353.5 515.4" stroke="#1a1a1a" stroke-width="0.8" marker-end="url(#ah2)"/>
<path d="M298 519.3L353.5 522.4" stroke="#1a1a1a" stroke-width="0.8" marker-end="url(#ah2)"/>
<defs><radialGradient id="bg" cx="0.42" cy="0.32" r="0.75"><stop offset="0" stop-color="#dcae98"/><stop offset="0.55" stop-color="#c48a72"/><stop offset="1" stop-color="#9c6250"/></radialGradient><linearGradient id="cg" x1="0" x2="1" y1="0" y2="0"><stop offset="0" stop-color="#b9b9b9"/><stop offset="0.25" stop-color="#e2e2e2"/><stop offset="0.5" stop-color="#f1f1f1"/><stop offset="0.75" stop-color="#e2e2e2"/><stop offset="1" stop-color="#b9b9b9"/></linearGradient></defs>
<defs><clipPath id="bc"><path d="M245.5 458 C245.5 451.5 252 447.8 261.5 447.8 C271 447.8 278 452.5 277.9 459.5 C277.8 464 275.5 467 271.5 468 C268 468.8 266 469.5 263.5 470.6 C259.5 471.5 255.5 470.5 253.5 468 C252.3 466.5 251.8 465 250 464.5 C247 463.8 245.5 461.5 245.5 458 Z"/></clipPath></defs>
<path d="M263.5 468.6 C267 468 272 467.6 275 466.6 C275.3 469.6 273.2 472.4 269.6 472.4 C266.8 472.3 264.8 470.6 263.5 468.6 Z" fill="#8a6b53"/>
<path d="M245.5 458 C245.5 451.5 252 447.8 261.5 447.8 C271 447.8 278 452.5 277.9 459.5 C277.8 464 275.5 467 271.5 468 C268 468.8 266 469.5 263.5 470.6 C259.5 471.5 255.5 470.5 253.5 468 C252.3 466.5 251.8 465 250 464.5 C247 463.8 245.5 461.5 245.5 458 Z" fill="url(#bg)"/>
<g clip-path="url(#bc)"><path d="M259.9 460.4 q1.4 0.2 2.7 -0.2" stroke="#86493a" stroke-width="0.6" fill="none" opacity="0.6"/><path d="M251.1 459.3 q-0.9 0.1 0.8 1.4" stroke="#efcab6" stroke-width="0.6" fill="none" opacity="0.65"/><path d="M248.0 466.4 q2.2 0.4 1.2 -2.2" stroke="#86493a" stroke-width="0.6" fill="none" opacity="0.6"/><path d="M266.6 461.8 q-1.0 -2.6 -2.2 -2.3" stroke="#efcab6" stroke-width="0.6" fill="none" opacity="0.65"/><path d="M251.3 452.8 q-1.7 1.0 -3.0 -0.2" stroke="#86493a" stroke-width="0.6" fill="none" opacity="0.6"/><path d="M262.1 462.4 q-0.1 -0.3 -0.0 0.8" stroke="#efcab6" stroke-width="0.6" fill="none" opacity="0.65"/><path d="M277.9 470.9 q0.5 -0.4 2.2 1.0" stroke="#86493a" stroke-width="0.6" fill="none" opacity="0.6"/><path d="M254.5 448.7 q2.0 -0.6 1.7 -0.5" stroke="#efcab6" stroke-width="0.6" fill="none" opacity="0.65"/><path d="M276.6 467.3 q-0.3 -0.8 -3.2 -1.4" stroke="#86493a" stroke-width="0.6" fill="none" opacity="0.6"/><path d="M277.4 456.5 q-0.5 -0.4 -2.7 0.6" stroke="#efcab6" stroke-width="0.6" fill="none" opacity="0.65"/><path d="M247.9 455.0 q0.3 -0.2 3.0 1.2" stroke="#86493a" stroke-width="0.6" fill="none" opacity="0.6"/><path d="M248.3 448.4 q1.1 -0.9 1.9 -1.5" stroke="#efcab6" stroke-width="0.6" fill="none" opacity="0.65"/><path d="M251.3 464.6 q-2.4 0.1 -2.4 0.7" stroke="#86493a" stroke-width="0.6" fill="none" opacity="0.6"/><path d="M252.0 453.5 q0.9 2.0 3.0 1.5" stroke="#efcab6" stroke-width="0.6" fill="none" opacity="0.65"/><path d="M252.0 456.5 q-0.1 1.9 2.3 0.7" stroke="#86493a" stroke-width="0.6" fill="none" opacity="0.6"/><path d="M252.0 453.2 q0.2 -1.8 1.7 -0.8" stroke="#efcab6" stroke-width="0.6" fill="none" opacity="0.65"/><path d="M248.0 461.0 q-1.2 0.1 -1.6 0.5" stroke="#86493a" stroke-width="0.6" fill="none" opacity="0.6"/><path d="M276.7 458.6 q-0.8 -0.2 0.5 1.8" stroke="#efcab6" stroke-width="0.6" fill="none" opacity="0.65"/><path d="M275.0 466.6 q-0.0 0.7 -1.6 -1.5" stroke="#86493a" stroke-width="0.6" fill="none" opacity="0.6"/><path d="M251.5 469.8 q1.0 -1.0 2.4 0.5" stroke="#efcab6" stroke-width="0.6" fill="none" opacity="0.65"/><path d="M246.3 470.1 q-1.6 1.5 -1.7 1.0" stroke="#86493a" stroke-width="0.6" fill="none" opacity="0.6"/><path d="M264.7 454.0 q-2.4 -0.3 -2.1 1.1" stroke="#efcab6" stroke-width="0.6" fill="none" opacity="0.65"/><path d="M263.5 467.5 q1.7 -1.5 0.7 -1.1" stroke="#86493a" stroke-width="0.6" fill="none" opacity="0.6"/><path d="M245.5 453.5 q-1.2 -1.5 -0.3 -2.1" stroke="#efcab6" stroke-width="0.6" fill="none" opacity="0.65"/><path d="M263.9 450.2 q1.1 1.4 -0.9 1.9" stroke="#86493a" stroke-width="0.6" fill="none" opacity="0.6"/><path d="M267.8 461.0 q-2.7 0.2 -2.3 -2.2" stroke="#efcab6" stroke-width="0.6" fill="none" opacity="0.65"/><path d="M268.1 470.1 q-1.6 1.1 -3.1 0.7" stroke="#86493a" stroke-width="0.6" fill="none" opacity="0.6"/><path d="M255.5 471.0 q-0.6 1.4 -2.7 0.2" stroke="#efcab6" stroke-width="0.6" fill="none" opacity="0.65"/><path d="M269.3 463.9 q0.5 1.6 1.9 2.0" stroke="#86493a" stroke-width="0.6" fill="none" opacity="0.6"/><path d="M274.7 467.9 q0.9 0.9 -0.5 1.4" stroke="#efcab6" stroke-width="0.6" fill="none" opacity="0.65"/><path d="M265.6 456.2 q-1.1 0.7 0.5 0.5" stroke="#86493a" stroke-width="0.6" fill="none" opacity="0.6"/><path d="M277.8 468.1 q1.5 -0.0 1.5 -0.5" stroke="#efcab6" stroke-width="0.6" fill="none" opacity="0.65"/><path d="M259.5 467.1 q-2.8 0.9 -2.7 1.2" stroke="#86493a" stroke-width="0.6" fill="none" opacity="0.6"/><path d="M260.9 452.5 q1.0 1.3 1.3 -0.0" stroke="#efcab6" stroke-width="0.6" fill="none" opacity="0.65"/><path d="M253.4 447.3 q-1.6 -0.6 -1.3 0.9" stroke="#86493a" stroke-width="0.6" fill="none" opacity="0.6"/><path d="M274.9 462.8 q-0.7 1.5 -0.4 1.9" stroke="#efcab6" stroke-width="0.6" fill="none" opacity="0.65"/><path d="M251.6 457.3 q2.2 0.6 2.0 2.0" stroke="#86493a" stroke-width="0.6" fill="none" opacity="0.6"/><path d="M264.2 454.6 q-0.1 1.1 -2.3 -0.0" stroke="#efcab6" stroke-width="0.6" fill="none" opacity="0.65"/><path d="M268.5 469.8 q-0.9 -1.5 -1.4 -1.6" stroke="#86493a" stroke-width="0.6" fill="none" opacity="0.6"/><path d="M252.1 456.9 q-0.2 1.1 0.8 -0.0" stroke="#efcab6" stroke-width="0.6" fill="none" opacity="0.65"/><path d="M277.4 457.9 q-0.2 -2.6 -2.7 -2.2" stroke="#86493a" stroke-width="0.6" fill="none" opacity="0.6"/><path d="M268.4 460.7 q-2.1 -0.5 -1.2 1.4" stroke="#efcab6" stroke-width="0.6" fill="none" opacity="0.65"/><path d="M260.0 447.6 q-0.1 -2.1 2.1 -1.3" stroke="#86493a" stroke-width="0.6" fill="none" opacity="0.6"/><path d="M265.8 457.7 q1.4 1.8 0.8 0.7" stroke="#efcab6" stroke-width="0.6" fill="none" opacity="0.65"/><path d="M267.6 451.8 q-1.6 -0.9 -0.2 -1.5" stroke="#86493a" stroke-width="0.6" fill="none" opacity="0.6"/><path d="M268.6 451.3 q-0.1 -0.3 -1.5 -0.7" stroke="#efcab6" stroke-width="0.6" fill="none" opacity="0.65"/><path d="M265.3 465.1 q1.0 -0.6 -0.7 1.4" stroke="#86493a" stroke-width="0.6" fill="none" opacity="0.6"/><path d="M275.8 464.3 q-0.8 1.2 -2.4 -0.2" stroke="#efcab6" stroke-width="0.6" fill="none" opacity="0.65"/><path d="M257.4 460.7 q2.6 0.6 2.4 1.4" stroke="#86493a" stroke-width="0.6" fill="none" opacity="0.6"/><path d="M266.5 451.9 q1.2 1.5 1.4 1.5" stroke="#efcab6" stroke-width="0.6" fill="none" opacity="0.65"/><path d="M252.0 468.6 q1.7 2.1 3.1 2.3" stroke="#86493a" stroke-width="0.6" fill="none" opacity="0.6"/><path d="M255.6 468.8 q-0.2 -0.6 2.3 -0.7" stroke="#efcab6" stroke-width="0.6" fill="none" opacity="0.65"/><path d="M263.2 465.4 q0.9 -2.5 -0.1 -2.3" stroke="#86493a" stroke-width="0.6" fill="none" opacity="0.6"/><path d="M271.4 451.1 q-1.7 -0.4 -1.1 1.4" stroke="#efcab6" stroke-width="0.6" fill="none" opacity="0.65"/><path d="M262.0 464.4 q2.5 0.4 2.2 0.9" stroke="#86493a" stroke-width="0.6" fill="none" opacity="0.6"/><path d="M276.3 449.1 q-1.6 0.8 -1.8 0.1" stroke="#efcab6" stroke-width="0.6" fill="none" opacity="0.65"/><path d="M266.1 459.5 q0.5 -0.2 2.2 0.3" stroke="#86493a" stroke-width="0.6" fill="none" opacity="0.6"/><path d="M272.9 468.6 q0.6 0.9 -1.9 1.7" stroke="#efcab6" stroke-width="0.6" fill="none" opacity="0.65"/><path d="M263.9 451.8 q0.5 -1.5 0.2 0.0" stroke="#86493a" stroke-width="0.6" fill="none" opacity="0.6"/><path d="M277.0 459.4 q-0.1 0.7 -0.6 1.4" stroke="#efcab6" stroke-width="0.6" fill="none" opacity="0.65"/><path d="M267.8 448.6 q1.6 1.1 0.2 -0.4" stroke="#86493a" stroke-width="0.6" fill="none" opacity="0.6"/><path d="M253.9 458.4 q-0.2 1.1 -2.4 -0.3" stroke="#efcab6" stroke-width="0.6" fill="none" opacity="0.65"/><path d="M260.7 454.6 q0.4 -0.9 -2.0 0.6" stroke="#86493a" stroke-width="0.6" fill="none" opacity="0.6"/><path d="M270.7 447.5 q-0.4 -1.2 -2.0 -1.3" stroke="#efcab6" stroke-width="0.6" fill="none" opacity="0.65"/><path d="M256.7 461.9 q-2.5 0.6 -2.5 1.1" stroke="#86493a" stroke-width="0.6" fill="none" opacity="0.6"/><path d="M253.3 451.7 q-0.3 -0.4 0.2 -0.3" stroke="#efcab6" stroke-width="0.6" fill="none" opacity="0.65"/><path d="M262.5 450.8 q-0.5 0.4 -1.9 0.6" stroke="#86493a" stroke-width="0.6" fill="none" opacity="0.6"/><path d="M273.1 461.7 q1.9 0.4 2.3 -1.3" stroke="#efcab6" stroke-width="0.6" fill="none" opacity="0.65"/><path d="M274.8 454.6 q-1.5 2.6 -1.2 2.0" stroke="#86493a" stroke-width="0.6" fill="none" opacity="0.6"/><path d="M274.3 450.2 q-1.6 -0.7 -1.7 1.1" stroke="#efcab6" stroke-width="0.6" fill="none" opacity="0.65"/><path d="M272.5 457.1 q0.6 -0.3 1.9 -1.8" stroke="#86493a" stroke-width="0.6" fill="none" opacity="0.6"/><path d="M245.6 451.8 q2.1 -0.2 1.2 2.0" stroke="#efcab6" stroke-width="0.6" fill="none" opacity="0.65"/><path d="M261.7 465.2 q-1.0 -0.9 0.0 0.9" stroke="#86493a" stroke-width="0.6" fill="none" opacity="0.6"/><path d="M248.5 447.9 q0.4 -1.1 0.3 0.1" stroke="#efcab6" stroke-width="0.6" fill="none" opacity="0.65"/><path d="M251.1 451.9 q2.5 -0.1 2.2 2.4" stroke="#86493a" stroke-width="0.6" fill="none" opacity="0.6"/><path d="M247.0 469.8 q-0.7 0.5 -0.2 1.3" stroke="#efcab6" stroke-width="0.6" fill="none" opacity="0.65"/><path d="M262.0 457.3 q1.0 -0.1 0.6 -2.3" stroke="#86493a" stroke-width="0.6" fill="none" opacity="0.6"/><path d="M251.0 457.9 q-0.2 -1.3 1.5 -0.5" stroke="#efcab6" stroke-width="0.6" fill="none" opacity="0.65"/><path d="M261.9 447.4 q1.9 1.9 2.5 1.4" stroke="#86493a" stroke-width="0.6" fill="none" opacity="0.6"/><path d="M265.8 456.7 q1.9 1.0 0.6 0.0" stroke="#efcab6" stroke-width="0.6" fill="none" opacity="0.65"/><path d="M253.5 468.9 q1.8 0.4 1.6 1.3" stroke="#86493a" stroke-width="0.6" fill="none" opacity="0.6"/><path d="M274.6 468.1 q1.5 0.3 1.2 1.3" stroke="#efcab6" stroke-width="0.6" fill="none" opacity="0.65"/><path d="M268.8 448.7 q-2.1 -0.5 -1.0 -0.1" stroke="#86493a" stroke-width="0.6" fill="none" opacity="0.6"/><path d="M266.1 462.0 q-0.3 0.5 -1.7 2.1" stroke="#efcab6" stroke-width="0.6" fill="none" opacity="0.65"/><path d="M266.8 460.7 q1.7 0.2 0.2 -0.5" stroke="#86493a" stroke-width="0.6" fill="none" opacity="0.6"/><path d="M268.1 465.3 q1.9 -0.4 3.1 -2.3" stroke="#efcab6" stroke-width="0.6" fill="none" opacity="0.65"/><path d="M253.5 456.6 q-1.8 -2.0 -2.9 -1.5" stroke="#86493a" stroke-width="0.6" fill="none" opacity="0.6"/><path d="M253.3 468.7 q1.7 0.2 0.3 0.0" stroke="#efcab6" stroke-width="0.6" fill="none" opacity="0.65"/><path d="M277.8 462.3 q1.3 -0.2 2.0 -2.0" stroke="#86493a" stroke-width="0.6" fill="none" opacity="0.6"/><path d="M246.5 469.3 q-2.1 -0.1 -2.2 -0.1" stroke="#efcab6" stroke-width="0.6" fill="none" opacity="0.65"/><path d="M265.2 448.4 q1.5 0.1 2.8 -0.4" stroke="#86493a" stroke-width="0.6" fill="none" opacity="0.6"/><path d="M257.1 453.9 q-0.2 0.8 1.0 0.3" stroke="#efcab6" stroke-width="0.6" fill="none" opacity="0.65"/><path d="M254.8 447.3 q-1.9 -0.3 -1.6 -2.2" stroke="#86493a" stroke-width="0.6" fill="none" opacity="0.6"/><path d="M257.9 468.5 q2.4 0.3 1.6 -2.2" stroke="#efcab6" stroke-width="0.6" fill="none" opacity="0.65"/><path d="M247.4 468.7 q1.3 -0.9 -0.5 -0.1" stroke="#86493a" stroke-width="0.6" fill="none" opacity="0.6"/><path d="M262.3 469.5 q2.2 0.9 1.4 -0.2" stroke="#efcab6" stroke-width="0.6" fill="none" opacity="0.65"/><path d="M264.9 449.8 q-0.6 -1.5 0.8 -0.2" stroke="#86493a" stroke-width="0.6" fill="none" opacity="0.6"/><path d="M262.4 450.0 q-0.3 -0.4 -0.4 0.8" stroke="#efcab6" stroke-width="0.6" fill="none" opacity="0.65"/><path d="M264.2 457.1 q2.5 1.5 1.8 0.1" stroke="#86493a" stroke-width="0.6" fill="none" opacity="0.6"/><path d="M269.2 452.7 q-0.3 1.3 -2.5 1.9" stroke="#efcab6" stroke-width="0.6" fill="none" opacity="0.65"/><path d="M256.9 453.5 q0.9 0.6 1.2 0.3" stroke="#86493a" stroke-width="0.6" fill="none" opacity="0.6"/><path d="M269.9 451.6 q0.5 2.4 -1.6 2.3" stroke="#efcab6" stroke-width="0.6" fill="none" opacity="0.65"/><path d="M246.3 448.5 q-0.3 -1.5 -1.5 -0.4" stroke="#86493a" stroke-width="0.6" fill="none" opacity="0.6"/><path d="M262.9 448.7 q-1.2 0.8 -2.6 0.8" stroke="#efcab6" stroke-width="0.6" fill="none" opacity="0.65"/><path d="M257.3 458.5 q-0.1 0.7 -1.9 -0.8" stroke="#86493a" stroke-width="0.6" fill="none" opacity="0.6"/><path d="M247.5 449.9 q1.8 -0.6 2.0 0.6" stroke="#efcab6" stroke-width="0.6" fill="none" opacity="0.65"/><path d="M259.0 453.2 q1.5 1.3 2.0 -0.6" stroke="#86493a" stroke-width="0.6" fill="none" opacity="0.6"/><path d="M255.7 460.2 q0.6 0.6 1.6 2.0" stroke="#efcab6" stroke-width="0.6" fill="none" opacity="0.65"/><path d="M248.2 468.0 q-1.1 -1.0 -2.7 -2.0" stroke="#86493a" stroke-width="0.6" fill="none" opacity="0.6"/><path d="M267.6 454.2 q-0.0 -0.5 1.8 -2.0" stroke="#efcab6" stroke-width="0.6" fill="none" opacity="0.65"/><path d="M247.7 454.3 q0.0 -0.7 1.4 0.9" stroke="#86493a" stroke-width="0.6" fill="none" opacity="0.6"/><path d="M256.8 464.4 q0.2 -0.7 -0.9 -1.8" stroke="#efcab6" stroke-width="0.6" fill="none" opacity="0.65"/><path d="M275.3 469.6 q2.3 -0.8 2.6 -0.3" stroke="#86493a" stroke-width="0.6" fill="none" opacity="0.6"/><path d="M255.5 456.6 q0.6 0.5 2.8 1.9" stroke="#efcab6" stroke-width="0.6" fill="none" opacity="0.65"/><path d="M257.1 455.7 q-1.3 -0.1 -0.7 -0.5" stroke="#86493a" stroke-width="0.6" fill="none" opacity="0.6"/><path d="M271.3 460.0 q0.0 1.0 2.2 0.3" stroke="#efcab6" stroke-width="0.6" fill="none" opacity="0.65"/><path d="M274.1 453.8 q-1.4 0.3 -3.1 0.1" stroke="#86493a" stroke-width="0.6" fill="none" opacity="0.6"/><path d="M276.9 462.6 q1.1 -0.1 1.9 -2.1" stroke="#efcab6" stroke-width="0.6" fill="none" opacity="0.65"/><path d="M247.8 449.0 q-0.6 1.4 1.5 1.9" stroke="#86493a" stroke-width="0.6" fill="none" opacity="0.6"/><path d="M249.7 464.9 q-0.4 0.2 1.0 -1.2" stroke="#efcab6" stroke-width="0.6" fill="none" opacity="0.65"/><path d="M262.2 465.4 q1.2 0.2 -0.7 -0.8" stroke="#86493a" stroke-width="0.6" fill="none" opacity="0.6"/><path d="M261.3 459.9 q2.0 0.2 1.4 1.0" stroke="#efcab6" stroke-width="0.6" fill="none" opacity="0.65"/><path d="M272.3 463.0 q2.2 2.0 2.3 1.5" stroke="#86493a" stroke-width="0.6" fill="none" opacity="0.6"/><path d="M276.6 462.4 q1.0 0.3 0.2 1.0" stroke="#efcab6" stroke-width="0.6" fill="none" opacity="0.65"/><path d="M258.9 450.5 q0.4 0.1 1.5 2.4" stroke="#86493a" stroke-width="0.6" fill="none" opacity="0.6"/><path d="M251.7 457.2 q-2.1 0.5 -1.3 2.3" stroke="#efcab6" stroke-width="0.6" fill="none" opacity="0.65"/><path d="M248.8 462.6 q-0.5 -0.9 1.8 -1.5" stroke="#86493a" stroke-width="0.6" fill="none" opacity="0.6"/><path d="M264.3 468.8 q-2.5 -1.8 -3.0 -1.9" stroke="#efcab6" stroke-width="0.6" fill="none" opacity="0.65"/><path d="M252.8 464.2 q-0.7 -1.4 0.6 -1.3" stroke="#86493a" stroke-width="0.6" fill="none" opacity="0.6"/><path d="M250.7 465.2 q0.4 0.1 -1.2 0.2" stroke="#efcab6" stroke-width="0.6" fill="none" opacity="0.65"/><path d="M253.6 468.3 q1.5 1.1 2.7 -0.8" stroke="#86493a" stroke-width="0.6" fill="none" opacity="0.6"/><path d="M260.9 452.3 q-0.5 0.7 -2.9 2.1" stroke="#efcab6" stroke-width="0.6" fill="none" opacity="0.65"/><path d="M262.4 459.4 q-0.2 0.3 -1.4 2.4" stroke="#86493a" stroke-width="0.6" fill="none" opacity="0.6"/><path d="M245.4 458.3 q0.3 1.1 -0.8 1.4" stroke="#efcab6" stroke-width="0.6" fill="none" opacity="0.65"/><path d="M250.2 450.8 q0.6 -0.5 -1.1 -1.2" stroke="#86493a" stroke-width="0.6" fill="none" opacity="0.6"/><path d="M266.0 470.8 q-1.9 0.9 -1.5 0.2" stroke="#efcab6" stroke-width="0.6" fill="none" opacity="0.65"/><path d="M245.0 466.7 q-0.2 0.0 2.2 1.5" stroke="#86493a" stroke-width="0.6" fill="none" opacity="0.6"/><path d="M268.6 449.3 q1.4 0.2 -0.1 -0.2" stroke="#efcab6" stroke-width="0.6" fill="none" opacity="0.65"/><path d="M273.3 454.3 q2.3 -1.5 1.9 -0.4" stroke="#86493a" stroke-width="0.6" fill="none" opacity="0.6"/><path d="M272.3 452.0 q-1.0 1.1 0.3 0.1" stroke="#efcab6" stroke-width="0.6" fill="none" opacity="0.65"/><path d="M250.5 464.5 C255 462.3 261 461.8 268 463.5" stroke="#93543f" stroke-width="0.8" fill="none" opacity="0.7"/></g>
<path d="M297.60 442.60 V471.40 Q297.60 475.90 302.10 475.90 H316.50 Q321.00 475.90 321.00 471.40 V442.60 Q321.00 441.60 319.50 441.60 Q318.00 441.60 318.00 442.60 V455.75 A1.05 1.05 0 0 1 315.90 455.75 V442.60 Q315.90 441.60 314.40 441.60 Q312.90 441.60 312.90 442.60 V454.55 A1.05 1.05 0 0 1 310.80 454.55 V442.60 Q310.80 441.60 309.30 441.60 Q307.80 441.60 307.80 442.60 V455.75 A1.05 1.05 0 0 1 305.70 455.75 V442.60 Q305.70 441.60 304.20 441.60 Q302.70 441.60 302.70 442.60 V454.55 A1.05 1.05 0 0 1 300.60 454.55 V442.60 Q300.60 441.60 299.10 441.60 Q297.60 441.60 297.60 442.60 Z" fill="url(#cg)" stroke="#5e5e5e" stroke-width="0.7"/>
<ellipse cx="309.30" cy="471.1" rx="5.4" ry="2.5" fill="#fafafa"/>
<rect x="296.70" y="455.3" width="1.8" height="4.8" fill="#2f6a4c"/>
<path d="M321.00 442.60 V471.40 Q321.00 475.90 325.50 475.90 H340.40 Q344.90 475.90 344.90 471.40 V442.60 Q344.90 441.60 343.40 441.60 Q341.90 441.60 341.90 442.60 V455.69 A1.11 1.11 0 0 1 339.67 455.69 V442.60 Q339.67 441.60 338.17 441.60 Q336.67 441.60 336.67 442.60 V454.49 A1.11 1.11 0 0 1 334.45 454.49 V442.60 Q334.45 441.60 332.95 441.60 Q331.45 441.60 331.45 442.60 V455.69 A1.11 1.11 0 0 1 329.22 455.69 V442.60 Q329.22 441.60 327.72 441.60 Q326.22 441.60 326.22 442.60 V454.49 A1.11 1.11 0 0 1 324.00 454.49 V442.60 Q324.00 441.60 322.50 441.60 Q321.00 441.60 321.00 442.60 Z" fill="url(#cg)" stroke="#5e5e5e" stroke-width="0.7"/>
<ellipse cx="332.95" cy="471.1" rx="5.4" ry="2.5" fill="#fafafa"/>
<rect x="320.10" y="455.3" width="1.8" height="4.8" fill="#2f6a4c"/>
<path d="M344.90 442.60 V471.40 Q344.90 475.90 349.40 475.90 H364.10 Q368.60 475.90 368.60 471.40 V442.60 Q368.60 441.60 367.10 441.60 Q365.60 441.60 365.60 442.60 V455.71 A1.09 1.09 0 0 1 363.43 455.71 V442.60 Q363.43 441.60 361.93 441.60 Q360.43 441.60 360.43 442.60 V454.51 A1.09 1.09 0 0 1 358.25 454.51 V442.60 Q358.25 441.60 356.75 441.60 Q355.25 441.60 355.25 442.60 V455.71 A1.09 1.09 0 0 1 353.07 455.71 V442.60 Q353.07 441.60 351.57 441.60 Q350.07 441.60 350.07 442.60 V454.51 A1.09 1.09 0 0 1 347.90 454.51 V442.60 Q347.90 441.60 346.40 441.60 Q344.90 441.60 344.90 442.60 Z" fill="url(#cg)" stroke="#5e5e5e" stroke-width="0.7"/>
<ellipse cx="356.75" cy="471.1" rx="5.4" ry="2.5" fill="#fafafa"/>
<rect x="344.00" y="455.3" width="1.8" height="4.8" fill="#2f6a4c"/>
<circle cx="453.7" cy="161.3" r="1.7" fill="#1a1a1a"/>
<circle cx="453.7" cy="203.7" r="1.7" fill="#1a1a1a"/>
<circle cx="453.7" cy="244.4" r="1.7" fill="#1a1a1a"/>
<circle cx="453.5" cy="407.9" r="1.7" fill="#1a1a1a"/>
<circle cx="453.5" cy="449.6" r="1.7" fill="#1a1a1a"/>
<circle cx="453.5" cy="491" r="1.7" fill="#1a1a1a"/>
<text x="451.93" y="57.17" font-size="19" fill="#0f6bd6" letter-spacing="1.4" textLength="204.00" lengthAdjust="spacingAndGlyphs" xml:space="preserve" stroke="#0f6bd6" stroke-width="0.5">胰高血糖素检测的难点</text>
<text x="452.07" y="131.60" font-size="16.2" fill="#0f6bd6" letter-spacing="1.2" textLength="252.24" lengthAdjust="spacingAndGlyphs" xml:space="preserve" stroke="#0f6bd6" stroke-width="0.25">难点一<tspan dx="1.80">:</tspan><tspan dx="1.30">样本中胰高血糖素不稳定</tspan></text>
<text x="705.92" y="136.57" font-size="8.2" fill="#0f6bd6" textLength="21.34" lengthAdjust="spacing" xml:space="preserve" >(图1)</text>
<text x="458.10" y="164.92" font-size="12.4" fill="#282828" letter-spacing="0.6" textLength="38.98" lengthAdjust="spacingAndGlyphs" xml:space="preserve" >易聚集</text>
<text x="460.10" y="185.24" font-size="12.4" fill="#282828" letter-spacing="0.6" textLength="266.82" lengthAdjust="spacingAndGlyphs" xml:space="preserve" >单链肽容易聚集成螺旋状纤维<tspan dx="0.60">,</tspan><tspan dx="2.35">形成淀粉样蛋白</tspan></text>
<text x="458.10" y="207.24" font-size="12.4" fill="#282828" letter-spacing="0.6" textLength="38.98" lengthAdjust="spacingAndGlyphs" xml:space="preserve" >易氧化</text>
<text x="461.10" y="227.06" font-size="12.4" fill="#282828" letter-spacing="0.6" textLength="201.87" lengthAdjust="spacingAndGlyphs" xml:space="preserve" >残基外露被氧化<tspan dx="0.60">,</tspan><tspan dx="2.35">肽链空间结构改变</tspan></text>
<text x="458.10" y="248.51" font-size="12.4" fill="#282828" letter-spacing="0.6" textLength="38.98" lengthAdjust="spacingAndGlyphs" xml:space="preserve" >易降解</text>
<text x="460.10" y="268.17" font-size="12.4" fill="#282828" letter-spacing="0.6" textLength="201.76" lengthAdjust="spacingAndGlyphs" xml:space="preserve" >中性内肽酶<tspan dx="1.00">(</tspan><tspan dx="0.40"><tspan style="letter-spacing:-0.2px">NE</tspan>P</tspan><tspan dx="0.40">)</tspan><tspan dx="1.40">酶解7个靶标肽键</tspan></text>
<text x="451.88" y="375.20" font-size="16.2" fill="#0f6bd6" letter-spacing="1.2" textLength="217.47" lengthAdjust="spacingAndGlyphs" xml:space="preserve" stroke="#0f6bd6" stroke-width="0.25">难点二<tspan dx="1.80">:</tspan><tspan dx="1.30">胰高血糖素不易检测</tspan></text>
<text x="671.27" y="379.70" font-size="8.2" fill="#0f6bd6" textLength="32.99" lengthAdjust="spacing" xml:space="preserve" >(图2-4)</text>
<text x="459.10" y="411.65" font-size="12.4" fill="#282828" letter-spacing="0.6" textLength="304.45" lengthAdjust="spacingAndGlyphs" xml:space="preserve" >分子量小<tspan dx="0.60">,</tspan><tspan dx="2.35">物种间同源性高</tspan><tspan dx="0.60">,</tspan><tspan dx="2.35">难以找到高特异性的抗体</tspan><tspan dx="0.60">,</tspan></text>
<text x="460.10" y="431.50" font-size="12.4" fill="#282828" letter-spacing="0.6" textLength="155.89" lengthAdjust="spacingAndGlyphs" xml:space="preserve" >难以形成双抗体夹心免疫法</text>
<text x="458.10" y="452.79" font-size="12.4" fill="#282828" letter-spacing="0.6" textLength="305.72" lengthAdjust="spacingAndGlyphs" xml:space="preserve" >基础含量极低<tspan dx="1.40">(</tspan><tspan dx="1.40">正常值2-18pmol/L</tspan><tspan dx="2.20">)</tspan><tspan dx="2.00">,</tspan><tspan dx="2.35">波动范围小</tspan><tspan dx="0.60">,</tspan><tspan dx="2.35">检测</tspan></text>
<text x="459.10" y="472.58" font-size="12.4" fill="#282828" letter-spacing="0.6" textLength="77.95" lengthAdjust="spacingAndGlyphs" xml:space="preserve" >灵敏度要求高</text>
<text x="458.10" y="493.54" font-size="12.4" fill="#282828" letter-spacing="0.6" textLength="291.47" lengthAdjust="spacingAndGlyphs" xml:space="preserve" >类似物多<tspan dx="0.60">,</tspan><tspan dx="2.35">容易发生交叉反应</tspan><tspan dx="0.60">;</tspan><tspan dx="2.35">与类似物没有相关性</tspan><tspan dx="0.60">,</tspan></text>
<text x="460.10" y="512.90" font-size="12.4" fill="#282828" letter-spacing="0.6" textLength="77.95" lengthAdjust="spacingAndGlyphs" xml:space="preserve" >特异性要求高</text>
<text x="123.49" y="212.30" font-size="9.5" fill="#282828" textLength="235.77" lengthAdjust="spacing" xml:space="preserve" >图1.使用EDTA+抑肽酶的血浆样本在不同存储条件下,</text>
<text x="142.86" y="225.91" font-size="9.5" fill="#282828" textLength="178.78" lengthAdjust="spacing" xml:space="preserve" >含量均出现一定程度下降,无法准确检测</text>
<text x="218.92" y="38.76" font-size="9" fill="#282828" textLength="27.91" lengthAdjust="spacing" xml:space="preserve" >参考值</text>
<text x="219.11" y="52.38" font-size="9" fill="#282828" textLength="24.16" lengthAdjust="spacing" xml:space="preserve" >2-8°C</text>
<text x="247.75" y="51.37" font-size="9" fill="#282828" textLength="25.62" lengthAdjust="spacing" xml:space="preserve" >6小时</text>
<text x="219.22" y="64.69" font-size="9" fill="#282828" textLength="21.92" lengthAdjust="spacing" xml:space="preserve" >室 温</text>
<text x="248.18" y="64.01" font-size="9" fill="#282828" textLength="25.79" lengthAdjust="spacing" xml:space="preserve" >6小时</text>
<text x="319.37" y="51.52" font-size="9" fill="#282828" textLength="25.46" lengthAdjust="spacing" xml:space="preserve" >2-8°C</text>
<text x="348.58" y="51.46" font-size="9" fill="#282828" textLength="31.29" lengthAdjust="spacing" xml:space="preserve" >24小时</text>
<text x="319.70" y="64.81" font-size="9" fill="#282828" textLength="22.25" lengthAdjust="spacing" xml:space="preserve" >室 温</text>
<text x="348.58" y="63.56" font-size="9" fill="#282828" textLength="31.29" lengthAdjust="spacing" xml:space="preserve" >24小时</text>
<text x="80.34" y="36.01" font-size="7.6" fill="#4a4a58" textLength="10.54" lengthAdjust="spacing" xml:space="preserve" >87</text>
<text x="79.91" y="54.24" font-size="7.6" fill="#4a4a58" textLength="10.63" lengthAdjust="spacing" xml:space="preserve" >65</text>
<text x="79.84" y="72.79" font-size="7.6" fill="#4a4a58" textLength="11.15" lengthAdjust="spacing" xml:space="preserve" >43</text>
<text x="80.41" y="90.93" font-size="7.6" fill="#4a4a58" textLength="10.33" lengthAdjust="spacing" xml:space="preserve" >21</text>
<text x="79.91" y="109.91" font-size="7.6" fill="#4a4a58" textLength="47.23" lengthAdjust="spacing" xml:space="preserve" >0</text>
<text x="96.62" y="192.17" font-size="7.3" fill="#444" textLength="19.55" lengthAdjust="spacing" xml:space="preserve" >样本1</text>
<text x="136.29" y="192.34" font-size="7.3" fill="#444" textLength="19.39" lengthAdjust="spacing" xml:space="preserve" >样本2</text>
<text x="172.62" y="192.17" font-size="7.3" fill="#444" textLength="19.03" lengthAdjust="spacing" xml:space="preserve" >样本3</text>
<text x="210.91" y="192.31" font-size="7.3" fill="#444" textLength="19.13" lengthAdjust="spacing" xml:space="preserve" >样本4</text>
<text x="247.62" y="192.16" font-size="7.3" fill="#444" textLength="19.08" lengthAdjust="spacing" xml:space="preserve" >样本5</text>
<text x="286.94" y="192.00" font-size="7.3" fill="#444" textLength="19.72" lengthAdjust="spacing" xml:space="preserve" >样本6</text>
<text x="322.62" y="192.17" font-size="7.3" fill="#444" textLength="19.05" lengthAdjust="spacing" xml:space="preserve" >样本7</text>
<text x="361.91" y="192.29" font-size="7.3" fill="#444" textLength="19.11" lengthAdjust="spacing" xml:space="preserve" >样本8</text>
<text x="152.98" y="313.62" font-size="6.9" fill="#333" textLength="49.09" lengthAdjust="spacing" xml:space="preserve" >Proglucagon 1-61</text>
<text x="166.08" y="349.96" font-size="6.9" fill="#333" textLength="24.74" lengthAdjust="spacing" xml:space="preserve" >Glicentin</text>
<text x="179.11" y="361.03" font-size="6.9" fill="#333" textLength="44.50" lengthAdjust="spacing" xml:space="preserve" >Oxyntomodulin</text>
<text x="154.98" y="394.86" font-size="6.9" fill="#333" textLength="48.97" lengthAdjust="spacing" xml:space="preserve" >Proglucagon 1-61</text>
<text x="47.57" y="326.94" font-size="8.4" fill="#3c3c44" textLength="65.47" lengthAdjust="spacing" xml:space="preserve" stroke="#3c3c44" stroke-width="0.12">preproglucagon</text>
<text x="60.37" y="375.84" font-size="8.4" fill="#3c3c44" textLength="51.91" lengthAdjust="spacing" xml:space="preserve" stroke="#3c3c44" stroke-width="0.12">proglucagon</text>
<text x="178.66" y="408.76" font-size="7.2" fill="#333" textLength="70.29" lengthAdjust="spacing" xml:space="preserve" >POSTTRANSLATIONAL</text>
<text x="194.11" y="418.48" font-size="7.2" fill="#333" textLength="42.05" lengthAdjust="spacing" xml:space="preserve" >RPOCESSING</text>
<text x="162.26" y="505.97" font-size="6.9" fill="#333" textLength="17.34" lengthAdjust="spacing" xml:space="preserve" >MPGF</text>
<text x="161.16" y="520.42" font-size="6.9" fill="#333" textLength="49.69" lengthAdjust="spacing" xml:space="preserve" >Proglucagon 1-61</text>
<text x="135.21" y="489.49" font-size="5.4" fill="#333" textLength="46.99" lengthAdjust="spacing" xml:space="preserve" >Pancreatic alpha cells</text>
<text x="254.49" y="477.50" font-size="5.4" fill="#333" textLength="12.08" lengthAdjust="spacing" xml:space="preserve" >Brain</text>
<text x="318.11" y="438.04" font-size="5.0" fill="#333" textLength="33.73" lengthAdjust="spacing" xml:space="preserve" >L-intestinal cells</text>
<text x="359.41" y="490.45" font-size="6.9" fill="#333" textLength="25.77" lengthAdjust="spacing" xml:space="preserve" >Glicentin</text>
<text x="359.13" y="504.15" font-size="6.9" fill="#333" textLength="44.50" lengthAdjust="spacing" xml:space="preserve" >Oxyntomodulin</text>
<text x="358.86" y="517.63" font-size="6.8" fill="#333" textLength="51.45" lengthAdjust="spacing" xml:space="preserve" >GLP-1(7-36)AMIDE</text>
<text x="358.86" y="524.25" font-size="6.8" fill="#333" textLength="33.00" lengthAdjust="spacing" xml:space="preserve" >GLP-1(7-37)</text>
</svg>
</body></html>
